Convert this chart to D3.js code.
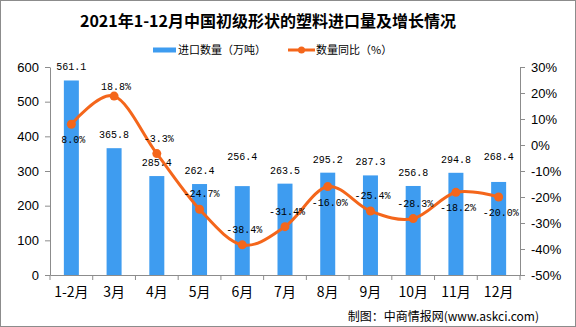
<!DOCTYPE html>
<html><head><meta charset="utf-8">
<script src="https://cdn.jsdelivr.net/npm/d3@7"></script>
<style>body{margin:0;background:#fff}svg{display:block}</style>
</head><body>
<script>
const categories = ["1-2月","3月","4月","5月","6月","7月","8月","9月","10月","11月","12月"];
const importVolume = [561.1,365.8,285.4,262.4,256.4,263.5,295.2,287.3,256.8,294.8,268.4];
const yoyGrowth = [8.0,18.8,-3.3,-24.7,-38.4,-31.4,-16.0,-25.4,-28.3,-18.2,-20.0];
const leftTicks = [0,100,200,300,400,500,600];
const rightTicks = [-50,-40,-30,-20,-10,0,10,20,30];
const title = "2021年1-12月中国初级形状的塑料进口量及增长情况";
const legendLabels = ["进口数量（万吨）","数量同比（%）"];
const sourceText = "制图：中商情报网(www.askci.com)";

// label placement config (layout only)
const pctLabelSide = ["below","above","above","above","above","above","below","above","above","below","below"];
const barLabelLift = {"6月":16,"12月":12};

const W=576,H=327;
const m={l:50,r:56,t:67,b:52};
const svg=d3.select("body").append("svg").attr("width",W).attr("height",H);
svg.append("rect").attr("x",0.5).attr("y",0.5).attr("width",W-1).attr("height",H-1).attr("fill","#fff").attr("stroke","#8c8c8c");

const x=d3.scaleBand().domain(categories).range([m.l,W-m.r]);
const yL=d3.scaleLinear().domain([0,600]).range([H-m.b,m.t]);
const yR=d3.scaleLinear().domain([-50,30]).range([H-m.b,m.t]);
const blue="#3e9cf0", orange="#f4661b", axisC="#8c8c8c";
const mono="'Liberation Mono','DejaVu Sans Mono',monospace";

// bars
const bw=15;
svg.selectAll("rect.bar").data(importVolume).join("rect").attr("class","bar")
 .attr("x",(d,i)=>x(categories[i])+x.bandwidth()/2-bw/2)
 .attr("y",d=>yL(d)).attr("width",bw).attr("height",d=>yL(0)-yL(d)).attr("fill",blue);

// axes
const axL=svg.append("g").attr("transform",`translate(${m.l},0)`).call(d3.axisLeft(yL).tickValues(leftTicks).tickSize(5).tickSizeOuter(0).tickPadding(6));
const axR=svg.append("g").attr("transform",`translate(${W-m.r},0)`).call(d3.axisRight(yR).tickValues(rightTicks).tickSize(5).tickSizeOuter(0).tickPadding(6).tickFormat(d=>d+"%"));
const axB=svg.append("g").attr("transform",`translate(0,${H-m.b})`).call(d3.axisBottom(x).tickSize(0).tickPadding(12));
const bounds=categories.map(c=>x(c)).concat([x(categories[categories.length-1])+x.bandwidth()]);
axB.selectAll("line.bt").data(bounds).join("line").attr("class","bt")
 .attr("x1",d=>d).attr("x2",d=>d).attr("y1",0).attr("y2",5).attr("stroke",axisC);
[axL,axR,axB].forEach(a=>{a.select(".domain").attr("stroke",axisC);a.selectAll(".tick line").attr("stroke",axisC);
 a.selectAll("text").attr("fill","#000").attr("font-family","'Liberation Sans',sans-serif").attr("font-size",13);});
axB.selectAll("text").attr("font-family","'Noto Sans CJK SC',sans-serif").attr("font-size",14).attr("dy","0.71em");

// line
const pts=yoyGrowth.map((d,i)=>[x(categories[i])+x.bandwidth()/2,yR(d)]);
svg.append("path").attr("d",d3.line().curve(d3.curveCardinal.tension(0))(pts))
 .attr("fill","none").attr("stroke",orange).attr("stroke-width",3);
svg.selectAll("circle.pt").data(pts).join("circle").attr("class","pt")
 .attr("cx",d=>d[0]).attr("cy",d=>d[1]).attr("r",4.5).attr("fill",orange);

// bar labels
svg.selectAll("text.bl").data(importVolume).join("text").attr("class","bl")
 .attr("x",(d,i)=>x(categories[i])+x.bandwidth()/2)
 .attr("y",(d,i)=>yL(d)-10-(barLabelLift[categories[i]]||0))
 .attr("text-anchor","middle").attr("font-family",mono).attr("font-size",10).attr("fill","#000")
 .text(d=>d.toFixed(1));
// pct labels
svg.selectAll("text.pl").data(yoyGrowth).join("text").attr("class","pl")
 .attr("x",(d,i)=>pts[i][0]+2)
 .attr("y",(d,i)=>pts[i][1]+(pctLabelSide[i]==="below"?19:(i===1?-6:-12)))
 .attr("text-anchor","middle").attr("font-family",mono).attr("font-size",10).attr("fill","#000")
 .text(d=>d.toFixed(1)+"%");

// title
svg.append("text").attr("x",268).attr("y",27).attr("text-anchor","middle")
 .attr("font-family","'Noto Sans CJK SC',sans-serif").attr("font-weight","bold").attr("font-size",16).attr("fill","#000").text(title);

// legend
const lg=svg.append("g").attr("font-family","'Noto Sans CJK SC',sans-serif").attr("font-size",11);
lg.append("rect").attr("x",153).attr("y",47.5).attr("width",23).attr("height",5).attr("fill",blue);
lg.append("text").attr("x",178).attr("y",54).text(legendLabels[0]);
lg.append("line").attr("x1",288).attr("x2",315).attr("y1",50).attr("y2",50).attr("stroke",orange).attr("stroke-width",3);
lg.append("circle").attr("cx",301.5).attr("cy",50).attr("r",3.5).attr("fill",orange);
lg.append("text").attr("x",316).attr("y",54).text(legendLabels[1]);

// source
svg.append("text").attr("x",539).attr("y",321).attr("text-anchor","end")
 .attr("font-family","'Noto Sans CJK SC',sans-serif").attr("font-size",12).attr("fill","#000").text(sourceText);
</script>
</body></html>
